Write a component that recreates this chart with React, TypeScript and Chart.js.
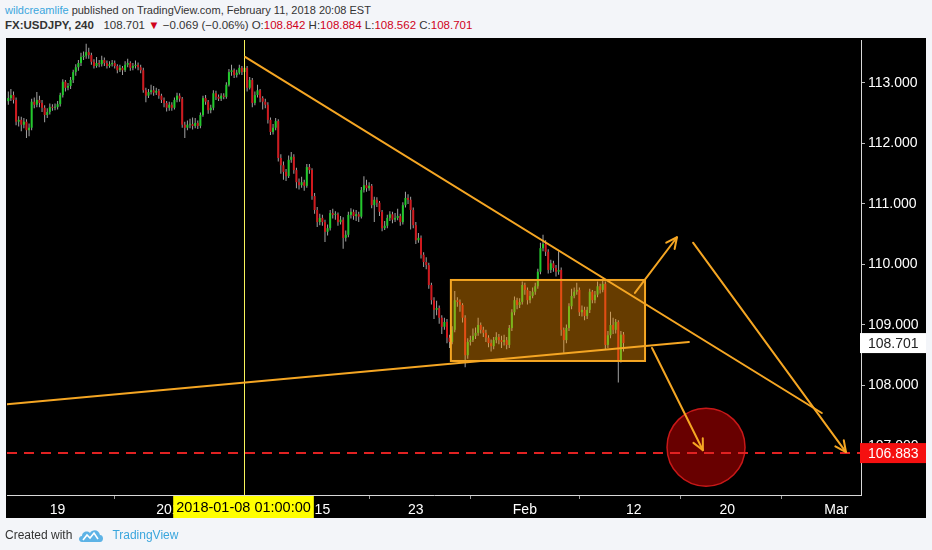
import React, { useEffect, useRef } from 'react';
import { Chart, registerables } from 'chart.js';

Chart.register(...registerables);

// ---- candle data (USDJPY, 4h) ----
const opens = [
  112.70,112.75,112.80,112.72,112.36,112.39,112.31,112.36,112.22,112.26,
  112.69,112.64,112.72,112.67,112.59,112.47,112.52,112.60,112.59,112.60,
  112.65,112.80,113.02,112.92,112.95,113.05,113.18,113.26,113.33,113.43,
  113.45,113.51,113.46,113.35,113.28,113.33,113.31,113.38,113.33,113.28,
  113.31,113.33,113.28,113.21,113.25,113.21,113.30,113.33,113.25,113.28,
  113.30,113.26,113.21,112.88,112.79,112.85,112.88,112.84,112.87,112.79,
  112.72,112.67,112.59,112.64,112.59,112.72,112.79,112.74,112.31,112.26,
  112.31,112.32,112.29,112.34,112.29,112.47,112.75,112.69,112.55,112.59,
  112.83,112.77,112.74,112.79,112.77,112.97,113.18,113.21,113.13,113.17,
  113.25,113.18,113.25,112.92,113.05,112.67,112.80,112.88,112.75,112.69,
  112.64,112.39,112.19,112.26,112.37,111.76,111.64,111.53,111.46,111.73,
  111.78,111.56,111.36,111.31,111.36,111.30,111.61,111.56,111.13,110.90,
  110.70,110.77,110.70,110.54,110.60,110.85,110.82,110.83,110.70,110.74,
  110.44,110.49,110.82,110.87,110.80,110.83,110.79,111.23,111.31,111.26,
  111.30,110.98,111.07,111.02,110.87,110.60,110.64,110.77,110.83,110.74,
  110.77,110.80,110.70,110.98,111.10,111.07,110.90,110.65,110.40,110.44,
  110.16,110.04,109.99,109.66,109.41,109.25,109.28,109.12,108.97,109.05,
  108.79,108.72,108.92,109.41,109.38,109.33,109.12,108.50,108.72,108.75,
  108.82,108.87,109.00,108.92,108.87,108.79,108.70,108.65,108.75,108.80,
  108.75,108.72,108.75,108.67,108.95,109.21,109.41,109.33,109.38,109.66,
  109.58,109.41,109.48,109.55,109.64,109.88,110.27,110.34,110.21,109.91,
  110.02,109.94,109.88,109.91,108.92,108.75,108.95,109.31,109.48,109.55,
  109.58,109.21,109.25,109.15,109.25,109.55,109.41,109.50,109.64,109.58,
  109.68,108.67,108.83,109.00,108.92,109.05,108.42,108.842,
];
const highs = [
  112.86,112.90,112.86,112.76,112.45,112.44,112.42,112.40,112.33,112.74,
  112.76,112.85,112.79,112.72,112.63,112.58,112.66,112.65,112.66,112.70,
  112.84,113.06,113.05,113.00,113.10,113.22,113.31,113.38,113.50,113.52,
  113.65,113.58,113.50,113.39,113.43,113.38,113.45,113.42,113.37,113.36,
  113.38,113.37,113.31,113.30,113.28,113.36,113.40,113.36,113.33,113.37,
  113.34,113.30,113.25,112.92,112.90,112.97,112.95,112.92,112.90,112.82,
  112.76,112.70,112.69,112.68,112.76,112.84,112.83,112.77,112.36,112.38,
  112.41,112.43,112.42,112.38,112.51,112.79,112.80,112.72,112.64,112.88,
  112.87,112.81,112.83,112.83,113.01,113.23,113.30,113.24,113.22,113.30,
  113.28,113.43,113.28,113.10,113.08,112.86,112.97,112.90,112.78,112.74,
  112.68,112.43,112.32,112.42,112.40,111.82,111.70,111.58,111.80,111.86,
  111.82,111.60,111.42,111.45,111.40,111.66,111.66,111.59,111.18,110.95,
  110.84,110.82,110.74,110.66,110.90,110.92,110.88,110.86,110.80,110.78,
  110.56,110.87,110.93,110.91,110.90,110.87,111.28,111.46,111.40,111.36,
  111.33,111.12,111.11,111.05,110.90,110.72,110.82,110.88,110.87,110.85,
  110.92,110.84,111.03,111.20,111.16,111.12,110.94,110.70,110.52,110.48,
  110.20,110.12,110.03,109.70,109.46,109.40,109.32,109.16,109.12,109.10,
  108.84,108.98,109.56,109.46,109.42,109.36,109.16,108.78,108.82,108.94,
  108.96,109.12,109.04,108.97,108.92,108.83,108.76,108.80,108.88,108.85,
  108.82,108.84,108.80,109.00,109.26,109.47,109.45,109.44,109.72,109.70,
  109.62,109.56,109.62,109.70,109.93,110.36,110.49,110.40,110.25,110.08,
  110.06,109.99,110.22,109.95,108.96,109.01,109.36,109.60,109.62,109.70,
  109.62,109.32,109.30,109.30,109.60,109.58,109.56,109.72,109.68,109.73,
  109.72,108.90,109.22,109.12,109.10,109.08,108.90,108.884,
];
const lows = [
  112.64,112.70,112.66,112.30,112.28,112.20,112.25,112.09,112.12,112.22,
  112.58,112.60,112.60,112.52,112.35,112.42,112.48,112.54,112.55,112.56,
  112.61,112.76,112.86,112.88,112.90,113.00,113.12,113.20,113.28,113.38,
  113.40,113.40,113.30,113.24,113.25,113.26,113.27,113.28,113.24,113.25,
  113.27,113.24,113.16,113.18,113.13,113.18,113.26,113.20,113.21,113.24,
  113.21,113.16,112.84,112.68,112.75,112.81,112.79,112.80,112.74,112.67,
  112.60,112.53,112.54,112.54,112.56,112.68,112.69,112.26,112.09,112.22,
  112.25,112.23,112.25,112.24,112.25,112.44,112.64,112.49,112.50,112.55,
  112.72,112.70,112.70,112.73,112.74,112.94,113.12,113.08,113.09,113.14,
  113.13,113.15,112.86,112.89,112.60,112.63,112.76,112.68,112.56,112.58,
  112.33,112.14,112.15,112.22,111.70,111.50,111.40,111.38,111.43,111.68,
  111.50,111.26,111.24,111.27,111.22,111.27,111.50,111.07,110.84,110.62,
  110.65,110.64,110.37,110.48,110.56,110.76,110.74,110.64,110.66,110.26,
  110.38,110.45,110.76,110.74,110.72,110.70,110.76,111.19,111.20,111.22,
  110.93,110.70,110.95,110.80,110.55,110.57,110.60,110.72,110.68,110.70,
  110.73,110.64,110.66,110.94,111.00,110.58,110.60,110.34,110.36,110.10,
  109.96,109.92,109.60,109.34,109.10,109.16,109.02,108.85,108.92,108.70,
  108.62,108.68,108.88,109.30,109.22,109.04,108.30,108.44,108.66,108.72,
  108.77,108.82,108.86,108.80,108.72,108.63,108.56,108.60,108.70,108.68,
  108.62,108.66,108.60,108.62,108.90,109.16,109.26,109.28,109.34,109.50,
  109.34,109.36,109.44,109.50,109.60,109.84,110.22,110.14,109.85,109.86,
  109.88,109.80,109.83,108.82,108.54,108.70,108.90,109.26,109.44,109.50,
  109.15,109.14,109.08,109.10,109.20,109.36,109.36,109.46,109.52,109.54,
  108.60,108.62,108.78,108.85,108.86,108.05,108.38,108.562,
];
const closes = [
  112.75,112.80,112.72,112.36,112.39,112.31,112.36,112.22,112.26,112.69,
  112.64,112.72,112.67,112.59,112.47,112.52,112.60,112.59,112.60,112.65,
  112.80,113.02,112.92,112.95,113.05,113.18,113.26,113.33,113.43,113.45,
  113.51,113.46,113.35,113.28,113.33,113.31,113.38,113.33,113.28,113.31,
  113.33,113.28,113.21,113.25,113.21,113.30,113.33,113.25,113.28,113.30,
  113.26,113.21,112.88,112.79,112.85,112.88,112.84,112.87,112.79,112.72,
  112.67,112.59,112.64,112.59,112.72,112.79,112.74,112.31,112.26,112.31,
  112.32,112.29,112.34,112.29,112.47,112.75,112.69,112.55,112.59,112.83,
  112.77,112.74,112.79,112.77,112.97,113.18,113.21,113.13,113.17,113.25,
  113.18,113.25,112.92,113.05,112.67,112.80,112.88,112.75,112.69,112.64,
  112.39,112.19,112.26,112.37,111.76,111.64,111.53,111.46,111.73,111.78,
  111.56,111.36,111.31,111.36,111.30,111.61,111.56,111.13,110.90,110.70,
  110.77,110.70,110.54,110.60,110.85,110.82,110.83,110.70,110.74,110.44,
  110.49,110.82,110.87,110.80,110.83,110.79,111.23,111.31,111.26,111.30,
  110.98,111.07,111.02,110.87,110.60,110.64,110.77,110.83,110.74,110.77,
  110.80,110.70,110.98,111.10,111.07,110.90,110.65,110.40,110.44,110.16,
  110.04,109.99,109.66,109.41,109.25,109.28,109.12,108.97,109.05,108.79,
  108.72,108.92,109.41,109.38,109.33,109.12,108.50,108.72,108.75,108.82,
  108.87,109.00,108.92,108.87,108.79,108.70,108.65,108.75,108.80,108.75,
  108.72,108.75,108.67,108.95,109.21,109.41,109.33,109.38,109.66,109.58,
  109.41,109.48,109.55,109.64,109.88,110.27,110.34,110.21,109.91,110.02,
  109.94,109.88,109.91,108.92,108.75,108.95,109.31,109.48,109.55,109.58,
  109.21,109.25,109.15,109.25,109.55,109.41,109.50,109.64,109.58,109.68,
  108.67,108.83,109.00,108.92,109.05,108.42,108.84,108.701,
];

// time axis: slot count (candles + empty future space) and tick labels
const TOTAL_SLOTS = 329;
const xTickIndex = [19, 63, 121, 157, 199, 241, 277, 319];
const xTickText = ['19', '2018', '15', '23', 'Feb', '12', '20', 'Mar'];
const yTicks = [107, 108, 109, 110, 111, 112, 113];
const yMin = 106.19;
const yMax = 113.71;

const lastPrice = 108.701;
const targetPrice = 106.883;
const markerIndex = 91;
const markerLabel = '2018-01-08 01:00:00';

// drawings in (slot index, price)
const trendDown = [[91.2, 113.43], [313.4, 107.545]];
const trendUp = [[-0.5, 107.69], [262.2, 108.72]];
const rangeBox = [[170.5, 109.744], [245.3, 108.405]];
const arrowUp = [[241.4, 109.53], [257.6, 110.45]];
const arrowDownLong = [[263.8, 110.36], [322.7, 106.9]];
const arrowDownShort = [[248, 108.62], [267.6, 106.93]];
const targetCircle = [268.8, 106.98];

const FONT = "'Liberation Sans', Arial, sans-serif";
const ORANGE = '#f5a623';

function drawArrow(ctx: CanvasRenderingContext2D, x1: number, y1: number, x2: number, y2: number) {
  ctx.beginPath();
  ctx.moveTo(x1, y1);
  ctx.lineTo(x2, y2);
  ctx.stroke();
  const ang = Math.atan2(y2 - y1, x2 - x1);
  const L = 12;
  ctx.beginPath();
  ctx.moveTo(x2 - L * Math.cos(ang - 0.45), y2 - L * Math.sin(ang - 0.45));
  ctx.lineTo(x2, y2);
  ctx.lineTo(x2 - L * Math.cos(ang + 0.45), y2 - L * Math.sin(ang + 0.45));
  ctx.stroke();
}

const overlayPlugin = {
  id: 'overlay',
  afterDatasetsDraw(chart: any) {
    const { ctx, chartArea: a, scales } = chart;
    const x = scales.x;
    const y = scales.y;
    const P = (p: number[]) => [x.getPixelForValue(p[0]), y.getPixelForValue(p[1])];
    ctx.save();
    ctx.beginPath();
    ctx.rect(a.left, a.top, a.right - a.left, a.bottom - a.top);
    ctx.clip();
    ctx.lineCap = 'round';

    // marker vertical line
    const mx = x.getPixelForValue(markerIndex);
    ctx.strokeStyle = '#f7f35a';
    ctx.lineWidth = 1;
    ctx.beginPath();
    ctx.moveTo(mx, a.top);
    ctx.lineTo(mx, a.bottom);
    ctx.stroke();

    // range box
    const [bx1, by1] = P(rangeBox[0]);
    const [bx2, by2] = P(rangeBox[1]);
    ctx.fillStyle = 'rgba(255,150,0,0.4)';
    ctx.fillRect(bx1, by1, bx2 - bx1, by2 - by1);
    ctx.strokeStyle = ORANGE;
    ctx.lineWidth = 2;
    ctx.strokeRect(bx1, by1, bx2 - bx1, by2 - by1);

    // trend lines
    for (const seg of [trendDown, trendUp]) {
      const [x1, y1] = P(seg[0]);
      const [x2, y2] = P(seg[1]);
      ctx.beginPath();
      ctx.moveTo(x1, y1);
      ctx.lineTo(x2, y2);
      ctx.stroke();
    }

    // target circle
    const [cx, cy] = P(targetCircle);
    ctx.beginPath();
    ctx.arc(cx, cy, 39, 0, Math.PI * 2);
    ctx.fillStyle = 'rgba(160,0,0,0.65)';
    ctx.fill();
    ctx.strokeStyle = '#c81818';
    ctx.lineWidth = 1.5;
    ctx.stroke();

    // target dashed line
    const ty = y.getPixelForValue(targetPrice);
    ctx.strokeStyle = '#e02222';
    ctx.lineWidth = 2;
    ctx.lineCap = 'butt';
    ctx.setLineDash([10, 7]);
    ctx.beginPath();
    ctx.moveTo(a.left, ty);
    ctx.lineTo(a.right, ty);
    ctx.stroke();
    ctx.setLineDash([]);

    // arrows
    ctx.strokeStyle = ORANGE;
    ctx.lineWidth = 2;
    ctx.lineCap = 'round';
    ctx.lineJoin = 'round';
    for (const seg of [arrowUp, arrowDownLong, arrowDownShort]) {
      const [x1, y1] = P(seg[0]);
      const [x2, y2] = P(seg[1]);
      drawArrow(ctx, x1, y1, x2, y2);
    }
    ctx.restore();
  },
  afterDraw(chart: any) {
    const { ctx, chartArea: a, scales } = chart;
    const x = scales.x;
    const y = scales.y;
    ctx.save();
    // marker label on the time axis
    const mx = x.getPixelForValue(markerIndex);
    ctx.font = `14.5px ${FONT}`;
    const tw = ctx.measureText(markerLabel).width;
    const bw = tw + 6;
    ctx.fillStyle = '#ffff00';
    ctx.fillRect(mx - bw / 2 - 1, a.bottom + 1, bw, 22);
    ctx.fillStyle = '#000';
    ctx.textAlign = 'center';
    ctx.textBaseline = 'middle';
    ctx.fillText(markerLabel, mx - 1, a.bottom + 13);

    // price tags on the price axis
    ctx.font = `14px ${FONT}`;
    const tags = [
      { v: lastPrice, bg: '#ffffff', fg: '#222' },
      { v: targetPrice, bg: '#f51010', fg: '#ffffff' },
    ];
    for (const t of tags) {
      const py = y.getPixelForValue(t.v);
      ctx.fillStyle = t.bg;
      ctx.fillRect(a.right - 1, py - 10, 66, 20);
      ctx.fillStyle = t.fg;
      ctx.textAlign = 'left';
      ctx.fillText(t.v.toFixed(3), a.right + 7, py + 1);
    }
    ctx.restore();
  },
};

const xLabels = Array.from({ length: TOTAL_SLOTS }, (_, i) => {
  const k = xTickIndex.indexOf(i);
  return k >= 0 ? xTickText[k] : '';
});

export default function App() {
  const ref = useRef<HTMLCanvasElement | null>(null);
  useEffect(() => {
    document.body.style.margin = '0';
    const canvas = ref.current;
    if (!canvas) return;
    const up = '#22c92c';
    const down = '#d0191e';
    const chart = new Chart(canvas, {
      type: 'bar',
      data: {
        labels: xLabels,
        datasets: [
          {
            label: 'wick',
            data: lows.map((l, i) => [l, highs[i]]) as any,
            backgroundColor: '#a3a3a3',
            grouped: false,
            categoryPercentage: 1,
            barPercentage: 0.45,
            maxBarThickness: 1,
            order: 2,
          } as any,
          {
            label: 'body',
            data: opens.map((o, i) => [o, closes[i]]) as any,
            backgroundColor: opens.map((o, i) => (closes[i] >= o ? up : down)),
            grouped: false,
            categoryPercentage: 1,
            barPercentage: 0.8,
            maxBarThickness: 2,
            minBarLength: 1,
            order: 1,
          } as any,
        ],
      },
      options: {
        animation: false,
        responsive: false,
        maintainAspectRatio: false,
        layout: { padding: { left: 7, top: 40, right: 6, bottom: 32 } },
        plugins: { legend: { display: false }, tooltip: { enabled: false } },
        scales: {
          x: {
            type: 'category',
            offset: true,
            grid: { display: true, drawOnChartArea: false, drawTicks: true, tickLength: 4, color: '#9a9a9a' },
            border: { display: true, color: '#d8d8d8', width: 1 },
            ticks: { autoSkip: false, maxRotation: 0, color: '#ffffff', font: { family: FONT, size: 14 }, padding: 3 },
            afterBuildTicks: (axis: any) => {
              axis.ticks = xTickIndex.map((v) => ({ value: v }));
            },
            afterFit: (axis: any) => {
              axis.height = 23;
            },
          },
          y: {
            type: 'linear',
            position: 'right',
            min: yMin,
            max: yMax,
            grid: { display: true, drawOnChartArea: false, drawTicks: true, tickLength: 4, color: '#bdbdbd' },
            border: { display: true, color: '#d8d8d8', width: 1 },
            ticks: {
              color: '#ffffff',
              font: { family: FONT, size: 14 },
              padding: 3,
              callback: (v: any) => Number(v).toFixed(3),
            },
            afterBuildTicks: (axis: any) => {
              axis.ticks = yTicks.map((v) => ({ value: v }));
            },
            afterFit: (axis: any) => {
              axis.width = 65;
            },
          },
        },
      } as any,
      plugins: [overlayPlugin],
    });
    return () => chart.destroy();
  }, []);

  const red = '#d0021b';
  return (
    <div style={{ position: 'fixed', left: 0, top: 0, width: 932, height: 550, background: '#f3f5f9', overflow: 'hidden', fontFamily: FONT }}>
      <div style={{ position: 'absolute', left: 5, top: 2, fontSize: 11, lineHeight: '16px', color: '#333', whiteSpace: 'nowrap' }}>
        <span style={{ color: '#3aa6dd' }}>wildcreamlife</span> published on TradingView.com, February 11, 2018 20:08 EST
      </div>
      <div style={{ position: 'absolute', left: 5, top: 17, fontSize: 11.5, lineHeight: '16px', color: '#333', whiteSpace: 'nowrap' }}>
        <b>FX:USDJPY, 240</b>&nbsp;&nbsp; 108.701 <span style={{ color: red }}>▼</span> −0.069 (−0.06%) O:<span style={{ color: red }}>108.842</span> H:<span style={{ color: red }}>108.884</span> L:<span style={{ color: red }}>108.562</span> C:<span style={{ color: red }}>108.701</span>
      </div>
      <div style={{ position: 'absolute', left: 6, top: 38, width: 920, height: 480, background: '#000' }} />
      <canvas ref={ref} width={932} height={550} style={{ position: 'absolute', left: 0, top: 0, width: 932, height: 550, display: 'block' }} />
      <div style={{ position: 'absolute', left: 5, top: 527, fontSize: 12, lineHeight: '16px', color: '#333', whiteSpace: 'nowrap', display: 'flex', alignItems: 'center' }}>
        <span>Created with</span>
        <svg width="26" height="16" viewBox="0 0 26 16" style={{ marginLeft: 6, marginRight: 8 }}>
          <path d="M4 15 C0 15 0 9 4 9 C4 5 9 3 12 6 C14 2 21 2 22 8 C26 8 26 15 22 15 Z" fill="#5db3e6" />
          <path d="M5 13 L9 8 L12 11 L16 6 L20 12" stroke="#ffffff" strokeWidth="1.6" fill="none" />
        </svg>
        <span style={{ color: '#3aa6dd' }}>TradingView</span>
      </div>
    </div>
  );
}
